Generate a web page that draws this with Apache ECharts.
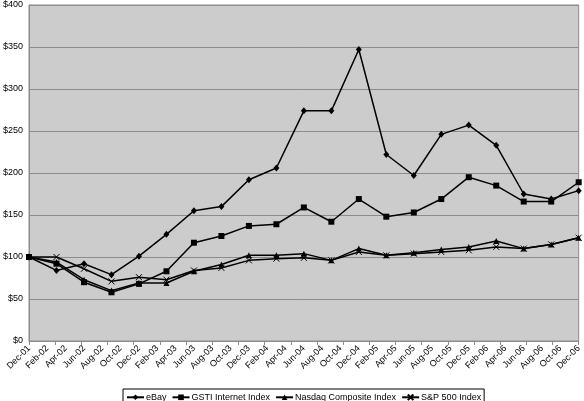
<!DOCTYPE html>
<html><head><meta charset="utf-8">
<script src="https://cdn.jsdelivr.net/npm/echarts@6/dist/echarts.min.js"></script>
<style>html,body{margin:0;padding:0;background:#fff}#c{width:584px;height:401px}</style>
</head><body><div id="c"></div>
<script>
const dateLabels = ['Dec-01','Feb-02','Apr-02','Jun-02','Aug-02','Oct-02','Dec-02','Feb-03','Apr-03','Jun-03','Aug-03','Oct-03','Dec-03','Feb-04','Apr-04','Jun-04','Aug-04','Oct-04','Dec-04','Feb-05','Apr-05','Jun-05','Aug-05','Oct-05','Dec-05','Feb-06','Apr-06','Jun-06','Aug-06','Oct-06','Dec-06'];
const yTicks = [0,50,100,150,200,250,300,350,400];
const ebay   = [100,84,92,79,101,127,155,160,192,206,274,274,347,222,197,246,257,233,175,169,179];
const gsti   = [100,92,70,58,68,83,117,125,137,139,159,142,169,148,153,169,195,185,166,166,189];
const nasdaq = [100,94,73,60,69,69,83,91,102,102,104,96,110,102,105,109,112,119,110,115,123];
const sp500  = [100,100,86,71,76,73,84,87,96,98,99,96,106,102,104,106,108,112,110,115,123];

const chart = echarts.init(document.getElementById('c'));
const font = 'Liberation Sans, Arial, Helvetica, sans-serif';
const toPts = arr => arr.map((v,i)=>[i,v]);
function ser(name, data, symbol, extra){
  return Object.assign({
    name, type:'line', xAxisIndex:2, data:toPts(data), symbol, symbolSize:6,
    lineStyle:{color:'#000', width:1.5},
    itemStyle:{color:'#000'}, animation:false
  }, extra||{});
}
chart.setOption({
  animation:false,
  backgroundColor:'#fff',
  textStyle:{fontFamily:font},
  grid:{left:28, right:4, top:5, bottom:60, show:true, backgroundColor:'#cccccc', borderColor:'#8c8c8c', borderWidth:1},
  legend:{
    left:123, top:389, orient:'horizontal',
    data:['eBay','GSTI Internet Index','Nasdaq Composite Index','S&P 500 Index'],
    borderColor:'#000', borderWidth:1, padding:[3,3,3,3],
    itemWidth:17, itemHeight:7, itemGap:5,
    textStyle:{fontFamily:font, fontSize:9, color:'#000', padding:[0,0,0,-3]}
  },
  xAxis:[
    {type:'category', data:dateLabels, boundaryGap:false, position:'bottom',
     axisLine:{show:true, lineStyle:{color:'#8c8c8c'}}, axisTick:{show:false},
     axisLabel:{interval:0, rotate:45, fontSize:9, color:'#000', fontFamily:font, margin:6},
     splitLine:{show:false}},
    {type:'value', min:0, max:21, interval:1, position:'bottom',
     axisLine:{show:false}, axisTick:{show:true, length:4, lineStyle:{color:'#8c8c8c'}},
     axisLabel:{show:false}, splitLine:{show:false}},
    {type:'value', min:0, max:20, show:false}
  ],
  yAxis:{type:'value', min:0, max:400, interval:50,
    axisLine:{show:true, lineStyle:{color:'#8c8c8c'}}, axisTick:{show:false},
    axisLabel:{fontSize:9, color:'#000', fontFamily:font, margin:6, formatter:v=>'$'+v},
    splitLine:{lineStyle:{color:'#8c8c8c', width:1}}},
  series:[
    ser('eBay', ebay, 'diamond', {symbolSize:[6,7]}),
    ser('GSTI Internet Index', gsti, 'rect'),
    ser('Nasdaq Composite Index', nasdaq, 'triangle'),
    ser('S&P 500 Index', sp500, 'path://M0,0L10,10M10,0L0,10', {itemStyle:{color:'none', borderColor:'#000', borderWidth:1}})
  ]
});
</script></body></html>
